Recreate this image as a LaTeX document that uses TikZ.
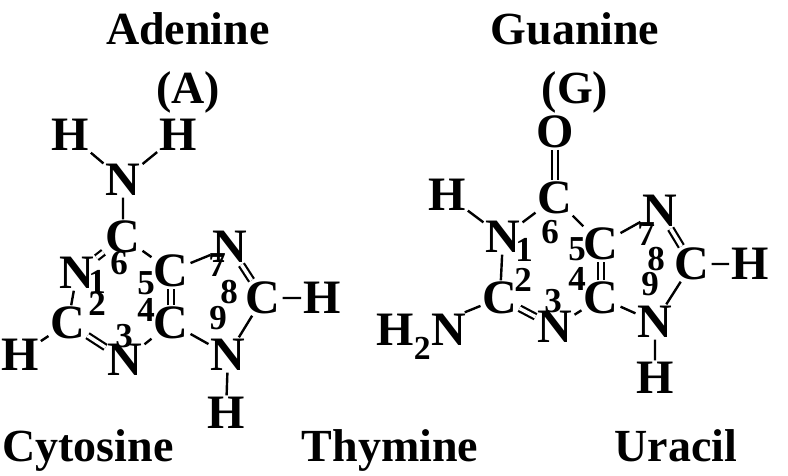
\documentclass[tikz,border=0pt]{standalone}
\usepackage{fontspec}
\setmainfont{Liberation Serif}
\begin{document}
\begin{tikzpicture}[x=1pt,y=-1pt,
 atom/.style={font=\fontsize{48}{48}\bfseries\selectfont,inner sep=2pt,text height=31pt,text depth=0pt},
 num/.style={font=\fontsize{35}{35}\bfseries\selectfont,inner sep=0pt,text height=23pt,text depth=0pt},
 ttl/.style={font=\fontsize{46}{46}\bfseries\selectfont,inner sep=0pt,text height=32pt,text depth=10pt},
 bd/.style={line width=2.4pt},
 db/.style={line width=2.2pt,double distance=3.5pt}]
\useasboundingbox (0,0) rectangle (788,475);
\node[ttl] (t1) at (188,33) {Adenine};
\node[ttl] (t2) at (188,92) {(A)};
\node[ttl] (t3) at (575,33) {Guanine};
\node[ttl] (t4) at (575,92) {(G)};
\node[ttl] (b1) at (88,450) {Cytosine};
\node[ttl] (b2) at (390,450) {Thymine};
\node[ttl] (b3) at (676,450) {Uracil};
% Adenine
\node[atom] (aH1) at (70,135) {H};
\node[atom] (aH2) at (178,135) {H};
\node[atom] (aNa) at (123,180) {N};
\node[atom] (aC6) at (123,237) {C};
\node[atom] (aN1) at (77,273) {N};
\node[atom] (aC2) at (68,323) {C};
\node[atom] (aH3) at (20,355) {H};
\node[atom] (aN3) at (125,360) {N};
\node[atom] (aC4) at (171,323) {C};
\node[atom] (aC5) at (171,271) {C};
\node[atom] (aN7) at (230,247) {N};
\node[atom] (aC8) at (263,298) {C};
\node[atom] (aH4) at (322,298) {H};
\node[atom] (aN9) at (228,355) {N};
\node[atom] (aH5) at (226,413) {H};
\draw[bd] (aH1)--(aNa) (aH2)--(aNa) (aNa)--(aC6) (aC6)--(aC5) (aN1)--(aC2) (aC2)--(aH3)
 (aN3)--(aC4) (aC5)--(aN7) (aC4)--(aN9) (aN9)--(aC8) (aC8)--(aH4) (aN9)--(aH5);
\draw[db] (aC6)--(aN1);
\draw[db] (aC2)--(aN3);
\draw[db] (aC4)--(aC5);
\draw[db] (aN7)--(aC8);
\node[num] (an1) at (97,282) {1};
\node[num] (an6) at (119,263) {6};
\node[num] (an5) at (146,283) {5};
\node[num] (an4) at (146,310) {4};
\node[num] (an3) at (124,336) {3};
\node[num] (an2) at (97,304) {2};
\node[num] (an7) at (217,265) {7};
\node[num] (an8) at (229,292) {8};
\node[num] (an9) at (218,318) {9};
% Guanine
\node[atom] (gO) at (555,132) {O};
\node[atom] (gC6) at (555,198) {C};
\node[atom] (gH1) at (447,195) {H};
\node[atom] (gN1) at (503,237) {N};
\node[atom] (gC2) at (500,298) {C};
\node[atom,anchor=east] (gN2) at (468,330) {H$_{\mathbf 2}$N};
\node[atom] (gN3) at (555,327) {N};
\node[atom] (gC4) at (601,298) {C};
\node[atom] (gC5) at (601,244) {C};
\node[atom] (gN7) at (660,211) {N};
\node[atom] (gC8) at (692,264) {C};
\node[atom] (gH2) at (750,264) {H};
\node[atom] (gN9) at (655,322) {N};
\node[atom] (gH3) at (655,378) {H};
\draw[bd] (gH1)--(gN1) (gN1)--(gC6) (gC6)--(gC5) (gN1)--(gC2) (gC2)--(gN2)
 (gN3)--(gC4) (gC5)--(gN7) (gC4)--(gN9) (gN9)--(gC8) (gC8)--(gH2) (gN9)--(gH3);
\draw[db] (gO)--(gC6);
\draw[db] (gC2)--(gN3);
\draw[db] (gC4)--(gC5);
\draw[db] (gN7)--(gC8);
\node[num] (gn1) at (524,250) {1};
\node[num] (gn6) at (550,232) {6};
\node[num] (gn5) at (577,249) {5};
\node[num] (gn4) at (577,279) {4};
\node[num] (gn3) at (553,301) {3};
\node[num] (gn2) at (523,280) {2};
\node[num] (gn7) at (646,234) {7};
\node[num] (gn8) at (656,259) {8};
\node[num] (gn9) at (650,284) {9};
\end{tikzpicture}
\end{document}
